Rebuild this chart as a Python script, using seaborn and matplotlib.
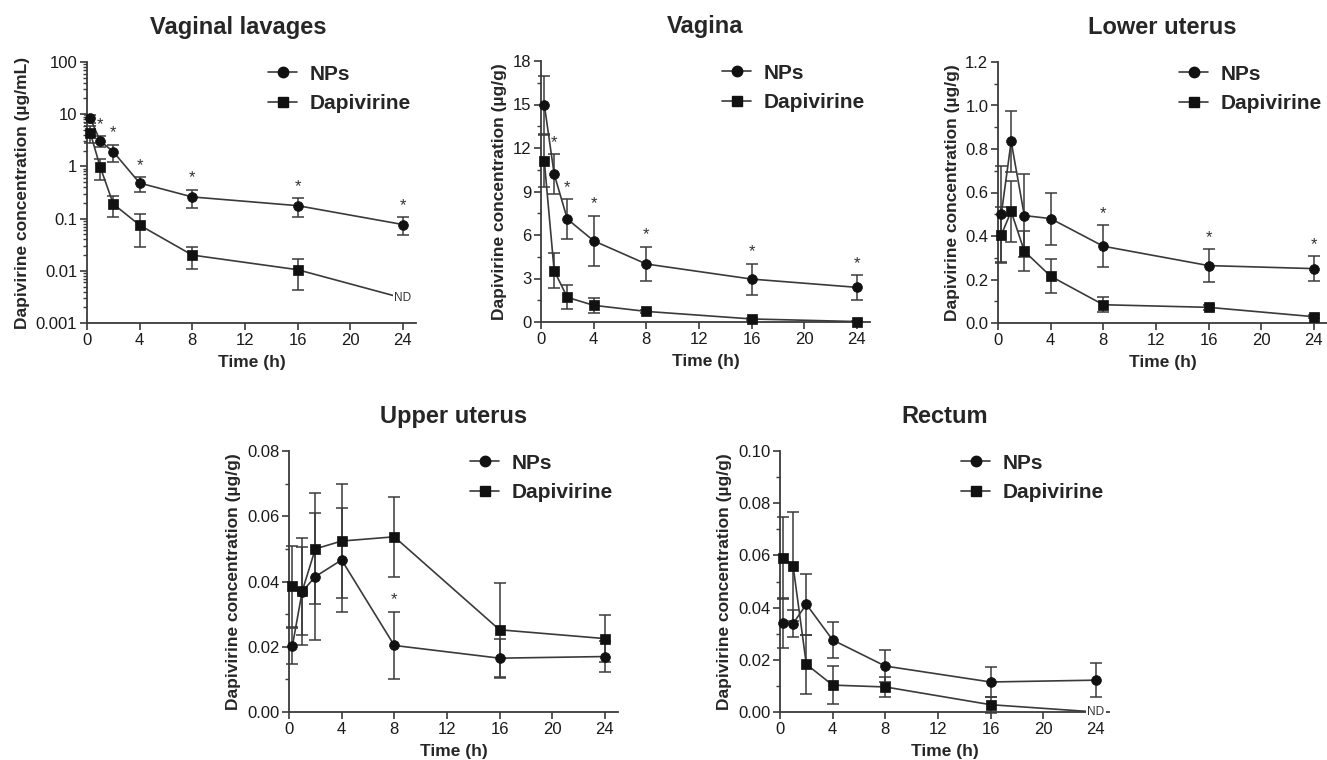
import numpy as np
import pandas as pd
import seaborn as sns
import matplotlib.pyplot as plt
from matplotlib.lines import Line2D
from matplotlib.ticker import MultipleLocator, FixedLocator, LogLocator, NullFormatter, FormatStrFormatter

# sampling times (h)
hours = [0.25, 1, 2, 4, 8, 16, 24]

# vaginal lavages (ug/mL), mean and SD; dapivirine at 24 h not detected (ND)
lav_np = [8.3, 3.1, 1.9, 0.48, 0.26, 0.177, 0.077]
lav_np_sd = [1.5, 0.7, 0.7, 0.15, 0.1, 0.07, 0.029]
lav_dap = [4.4, 0.98, 0.19, 0.075, 0.020, 0.0105, 0.003]
lav_dap_sd = [1.6, 0.42, 0.085, 0.047, 0.009, 0.0063, 0]
lav_star = [0, 1, 1, 1, 1, 1, 1]

# vagina (ug/g)
vag_np = [15.0, 10.2, 7.1, 5.6, 4.0, 2.96, 2.39]
vag_np_sd = [2.0, 1.4, 1.38, 1.74, 1.2, 1.07, 0.86]
vag_dap = [11.1, 3.54, 1.70, 1.15, 0.73, 0.21, 0.03]
vag_dap_sd = [1.8, 1.2, 0.82, 0.5, 0.12, 0.08, 0.05]
vag_star = [0, 1, 1, 1, 1, 1, 1]

# lower uterus (ug/g)
low_np = [0.50, 0.835, 0.494, 0.48, 0.353, 0.264, 0.25]
low_np_sd = [0.22, 0.14, 0.19, 0.12, 0.097, 0.075, 0.058]
low_dap = [0.405, 0.513, 0.33, 0.215, 0.084, 0.072, 0.029]
low_dap_sd = [0.13, 0.14, 0.092, 0.078, 0.035, 0.012, 0.008]
low_star = [0, 0, 0, 0, 1, 1, 1]

# upper uterus (ug/g)
up_np = [0.0201, 0.0369, 0.0415, 0.0466, 0.0204, 0.0165, 0.0170]
up_np_sd = [0.0055, 0.0165, 0.0195, 0.0158, 0.0104, 0.006, 0.0047]
up_dap = [0.0385, 0.0370, 0.0500, 0.0524, 0.0537, 0.0252, 0.0225]
up_dap_sd = [0.0125, 0.0135, 0.017, 0.0175, 0.0123, 0.0144, 0.0073]
up_star = [0, 0, 0, 0, 1, 0, 0]

# rectum (ug/g); dapivirine at 24 h not detected (ND)
rec_np = [0.0342, 0.0339, 0.0413, 0.0276, 0.0176, 0.0115, 0.0122]
rec_np_sd = [0.0095, 0.005, 0.0117, 0.007, 0.006, 0.0057, 0.0064]
rec_dap = [0.0591, 0.0558, 0.0183, 0.0103, 0.0096, 0.0028, 0.0]
rec_dap_sd = [0.0157, 0.021, 0.0113, 0.0072, 0.0037, 0.003, 0]
rec_star = [0, 0, 0, 0, 0, 0, 0]

sns.set_theme(style="ticks")
plt.rcParams['font.family'] = ['Liberation Sans', 'DejaVu Sans']

LINE = '#3a3a3a'
MARK = '#111111'

fig = plt.figure(figsize=(13.27, 7.6), dpi=100)
W, H = 1327, 760


def make_ax(left, top, w=329, h=261):
    return fig.add_axes([left / W, (H - top - h) / H, w / W, h / H])


def draw(ax, title, ylabel, np_y, np_sd, dap_y, dap_sd, stars, nd=False, title_x=0.5):
    for y, sd, m, ms in [(np_y, np_sd, 'o', 50), (dap_y, dap_sd, 's', 55)]:
        df = pd.DataFrame({'t': hours, 'c': y, 'sd': sd})
        sns.lineplot(data=df, x='t', y='c', ax=ax, color=LINE, lw=1.2,
                     estimator=None, legend=False, zorder=2)
        det = df.iloc[:-1] if (nd and m == 's') else df
        ax.errorbar(det['t'], det['c'], yerr=det['sd'], fmt='none', ecolor=LINE,
                    elinewidth=1.1, capsize=4, capthick=1.1, zorder=2, clip_on=False)
        sns.scatterplot(data=det, x='t', y='c', ax=ax, marker=m, s=ms, color=MARK,
                        edgecolor=MARK, linewidth=0.5, zorder=3, legend=False, clip_on=False)
    # significance marks above NP error bars
    for t, y, sd, s in zip(hours, np_y, np_sd, stars):
        if s:
            ax.annotate('*', (t, y + sd), xytext=(0, 3), textcoords='offset points',
                        ha='center', va='bottom', fontsize=12, color='#333333')
    if nd:
        ax.text(hours[-1], dap_y[-1], 'ND', ha='center', va='center', fontsize=8.5,
                color='#333333', zorder=5,
                bbox=dict(boxstyle='square,pad=0.1', fc='white', ec='none'))

    ax.set_xlim(0, 25)
    ax.xaxis.set_major_locator(FixedLocator([0, 4, 8, 12, 16, 20, 24]))
    ax.set_title(title, fontsize=17, fontweight='bold', pad=20, x=title_x)
    ax.set_xlabel('Time (h)', fontsize=12.5, fontweight='bold', labelpad=5)
    ax.set_ylabel(ylabel, fontsize=12.5, fontweight='bold', labelpad=4)
    sns.despine(ax=ax)
    for sp in ['left', 'bottom']:
        ax.spines[sp].set_color(LINE)
        ax.spines[sp].set_linewidth(1.3)
    ax.tick_params(which='major', length=5, width=1.2, color=LINE, labelsize=12,
                   labelcolor='#1a1a1a', pad=2)
    ax.tick_params(which='minor', length=3, width=1.0, color=LINE)
    ax.legend(handles=[Line2D([], [], color=LINE, marker='o', ms=7.5, mfc=MARK, mec=MARK, lw=1.2),
                       Line2D([], [], color=LINE, marker='s', ms=7.5, mfc=MARK, mec=MARK, lw=1.2)],
              labels=['NPs', 'Dapivirine'], loc='upper left', bbox_to_anchor=(0.55, 0.99),
              frameon=False, borderaxespad=0, borderpad=0, handlelength=1.4,
              handletextpad=0.6, labelspacing=0.5,
              prop={'size': 15, 'weight': 'bold'})


ug_g = 'Dapivirine concentration (\u00b5g/g)'

ax1 = make_ax(87, 62)
ax1.set_yscale('log')
draw(ax1, 'Vaginal lavages', 'Dapivirine concentration (\u00b5g/mL)',
     lav_np, lav_np_sd, lav_dap, lav_dap_sd, lav_star, nd=True, title_x=0.46)
ax1.set_ylim(0.001, 100)
ax1.yaxis.set_major_locator(FixedLocator([0.001, 0.01, 0.1, 1, 10, 100]))
ax1.set_yticklabels(['0.001', '0.01', '0.1', '1', '10', '100'])
ax1.yaxis.set_minor_locator(LogLocator(base=10, subs=np.arange(2, 10)))
ax1.yaxis.set_minor_formatter(NullFormatter())

ax2 = make_ax(541, 61)
draw(ax2, 'Vagina', ug_g, vag_np, vag_np_sd, vag_dap, vag_dap_sd, vag_star)
ax2.set_ylim(0, 18)
ax2.yaxis.set_major_locator(MultipleLocator(3))
ax2.yaxis.set_minor_locator(MultipleLocator(1.5))

ax3 = make_ax(998, 62)
draw(ax3, 'Lower uterus', ug_g, low_np, low_np_sd, low_dap, low_dap_sd, low_star)
ax3.set_ylim(0, 1.2)
ax3.yaxis.set_major_locator(MultipleLocator(0.2))
ax3.yaxis.set_minor_locator(MultipleLocator(0.1))
ax3.yaxis.set_major_formatter(FormatStrFormatter('%.1f'))

ax4 = make_ax(289, 451)
draw(ax4, 'Upper uterus', ug_g, up_np, up_np_sd, up_dap, up_dap_sd, up_star)
ax4.set_ylim(0, 0.08)
ax4.yaxis.set_major_locator(MultipleLocator(0.02))
ax4.yaxis.set_minor_locator(MultipleLocator(0.01))
ax4.yaxis.set_major_formatter(FormatStrFormatter('%.2f'))

ax5 = make_ax(780, 451)
draw(ax5, 'Rectum', ug_g, rec_np, rec_np_sd, rec_dap, rec_dap_sd, rec_star, nd=True)
ax5.set_ylim(0, 0.10)
ax5.yaxis.set_major_locator(MultipleLocator(0.02))
ax5.yaxis.set_minor_locator(MultipleLocator(0.01))
ax5.yaxis.set_major_formatter(FormatStrFormatter('%.2f'))

fig.savefig('out.png', dpi=100)
